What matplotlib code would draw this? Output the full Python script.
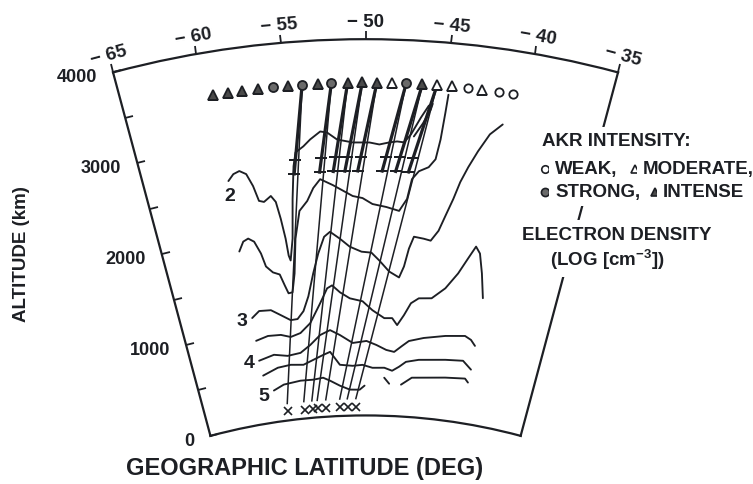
import numpy as np
import matplotlib.pyplot as plt
from matplotlib.lines import Line2D

plt.rcParams['font.family'] = ['Liberation Sans', 'DejaVu Sans']
plt.rcParams['font.weight'] = 'bold'
plt.rcParams['mathtext.fontset'] = 'custom'
plt.rcParams['mathtext.rm'] = 'Liberation Sans:bold'
plt.rcParams['mathtext.bf'] = 'Liberation Sans:bold'

INK = '#1d1f24'
R_E = 6371.0

# AKR observations along the pass (W weak, M moderate, S strong, I intense)
akr_lat = [-59.4, -58.5, -57.6, -56.6, -55.7, -54.8, -53.9, -52.9, -52.1, -51.1, -50.2,
           -49.3, -48.4, -47.5, -46.5, -45.6, -44.7, -43.7, -42.8, -41.8, -40.9]
akr_level = ['I', 'I', 'I', 'I', 'S', 'I', 'S', 'I', 'S', 'I', 'I',
             'I', 'M', 'S', 'I', 'M', 'M', 'W', 'M', 'W', 'W']
akr_alt = 3540

# field lines from the source points down to their footprints (x)
line_top_lat = [-53.9, -52.1, -51.1, -50.2, -49.3, -47.5, -46.5, -45.6]
line_foot_lat = [-57.3, -55.75, -55.0, -54.5, -53.7, -52.4, -51.7, -50.9]
line_top_alt = 3540
line_foot_alt = 180
foot_alt = 95
source_band = [2600, 2750]

# electron density contours, log10 [cm^-3]
c20_lat = [-59.34, -58.94, -58.51, -58.08, -57.73, -57.46, -57.12, -56.60, -56.30, -56.08,
           -55.88, -55.78, -55.67, -55.37, -55.11, -54.85, -54.64, -54.10, -53.62, -52.94,
           -52.50, -51.87, -50.84, -49.74, -49.09, -48.44, -47.93, -47.47, -47.05, -46.47,
           -46.02, -45.78, -45.88, -46.32, -46.85]
c20_alt = [2611, 2675, 2698, 2655, 2519, 2355, 2337, 2391, 2322, 2138,
           1923, 1741, 1687, 1916, 2336, 2682, 2827, 2884, 2953, 3031,
           3017, 2939, 2903, 2902, 2882, 2906, 2919, 2912, 2999, 3184,
           3316, 3340, 3276, 3123, 2980]

c25_lat = [-59.39, -58.99, -58.60, -58.20, -57.82, -57.58, -57.11, -56.61, -56.32, -56.09,
           -55.77, -55.47, -55.16, -54.70, -54.10, -53.62, -53.11, -52.25, -50.90, -50.21,
           -49.51, -48.53, -47.61, -47.09, -46.82, -46.38, -45.74, -45.32, -45.10, -44.94,
           -44.85]
c25_alt = [1853, 1950, 1974, 1932, 1797, 1654, 1582, 1551, 1430, 1342,
           1348, 1545, 1912, 2203, 2302, 2435, 2525, 2455, 2334, 2311,
           2248, 2219, 2182, 2312, 2526, 2614, 2664, 2754, 2968, 3257,
           3449]

c30_lat = [-59.24, -58.60, -57.65, -56.91, -56.15, -55.58, -55.04, -54.55, -54.04, -53.56,
           -53.05, -52.60, -51.89, -51.18, -50.30, -49.56, -48.95, -48.18, -47.40, -47.06,
           -46.76, -46.44, -45.71, -45.19, -44.68, -44.29, -43.86, -43.51, -43.09, -42.58,
           -41.96, -41.24]
c30_alt = [1133, 1195, 1186, 1121, 1056, 1060, 1138, 1291, 1529, 1736,
           1911, 1961, 1883, 1796, 1741, 1731, 1648, 1534, 1475, 1594,
           1786, 1916, 1902, 1887, 1999, 2164, 2351, 2538, 2705, 2885,
           3081, 3205]

c35_lat = [-59.22, -58.18, -57.10, -56.30, -55.45, -54.57, -53.65, -53.03, -52.63, -52.03,
           -51.26, -50.24, -49.44, -48.46, -47.81, -47.38, -46.86, -46.35, -45.75, -44.73,
           -43.73, -42.88, -42.28, -41.81, -41.45, -41.08, -40.70]
c35_alt = [887, 919, 912, 878, 909, 1005, 1208, 1362, 1391, 1314,
           1247, 1214, 1119, 1037, 1040, 968, 1077, 1208, 1266, 1278,
           1398, 1571, 1742, 1879, 1812, 1607, 1348]

c40_lat = [-59.24, -57.90, -56.74, -55.61, -54.71, -53.82, -52.97, -52.16, -51.09, -49.92,
           -49.07, -48.22, -47.53, -46.88, -46.32, -45.09, -43.29, -41.66, -41.12, -40.71]
c40_alt = [673, 712, 682, 699, 774, 871, 917, 860, 772, 792,
           750, 700, 682, 749, 806, 850, 895, 922, 890, 834]

c45_lat = [-59.10, -57.72, -56.57, -55.45, -54.56, -53.67, -53.06, -52.26, -51.13, -50.26,
           -49.39, -48.34, -47.64, -47.04, -46.46, -45.36, -43.05, -41.52, -40.72]
c45_alt = [510, 570, 584, 570, 613, 658, 686, 544, 529, 538,
           507, 510, 481, 527, 583, 614, 643, 658, 578]

c50a_lat = [-58.35, -57.39, -55.85, -54.70, -53.81, -53.20, -52.33, -51.44, -50.54, -50.09]
c50a_alt = [336, 384, 405, 403, 416, 380, 322, 277, 274, 317]
c50b_lat = [-48.32, -47.86]
c50b_alt = [404, 342]
c50c_lat = [-46.78, -45.85, -42.87, -41.11, -40.80]
c50c_alt = [338, 419, 455, 474, 437]

contour_labels = ['2', '3', '4', '5']
contour_label_lat = [-59.44, -60.14, -60.10, -59.30]
contour_label_alt = [2454, 1122, 670, 300]

lat_ticks = [-65, -60, -55, -50, -45, -40, -35]
alt_ticks = [0, 500, 1000, 1500, 2000, 2500, 3000, 3500, 4000]


def pol(lat, alt):
    return np.radians(np.asarray(lat, float)), R_E + np.asarray(alt, float)


fig = plt.figure(figsize=(7.53, 4.85), dpi=100)
ax = fig.add_axes([0.1501, -0.0124, 0.6707, 1.0412], projection='polar')
ax.set_theta_direction(-1)
ax.set_theta_offset(np.radians(40))
ax.set_thetalim(np.radians(-65), np.radians(-35))
ax.set_rlim(R_E, R_E + 4000)
ax.set_rorigin(0)
ax.grid(False)

# density contours
for la, al in [(c20_lat, c20_alt), (c25_lat, c25_alt), (c30_lat, c30_alt),
               (c35_lat, c35_alt), (c40_lat, c40_alt), (c45_lat, c45_alt),
               (c50a_lat, c50a_alt), (c50b_lat, c50b_alt), (c50c_lat, c50c_alt)]:
    ax.plot(*pol(la, al), color=INK, lw=1.35, solid_capstyle='round')

for txt, la, al in zip(contour_labels, contour_label_lat, contour_label_alt):
    t, r = pol(la, al)
    ax.text(t, r, txt, ha='center', va='center', fontsize=14, color=INK)

# field lines: thick above the source band, thin down to the footprint
for top, foot in zip(line_top_lat, line_foot_lat):
    ax.plot(*pol([top, foot], [line_top_alt, line_foot_alt]), color=INK, lw=1.1)
    band_lat = np.interp(source_band, [line_foot_alt, line_top_alt], [foot, top])
    ax.plot(*pol([top, band_lat[0]], [line_top_alt, source_band[0]]), color=INK, lw=2.3)
    ax.plot(*pol(band_lat, source_band), ls='none', marker='_', ms=8, mew=1.4, color=INK)
ax.plot(*pol(line_foot_lat, [foot_alt] * len(line_foot_lat)), ls='none', marker='x',
        ms=5.5, mew=1.2, color=INK)

# AKR intensity symbols
styles = {'W': ('o', 'white', 6), 'M': ('^', 'white', 6.5),
          'S': ('o', '#6a6a6a', 6.5), 'I': ('^', '#4a4a4a', 7)}
for la, lev in zip(akr_lat, akr_level):
    m, fc, ms = styles[lev]
    ax.plot(*pol([la], [akr_alt]), ls='none', marker=m, ms=ms, mfc=fc, mec=INK,
            mew=1.3, zorder=5)

# axes frame and ticks (latitude ticks sit on the outer arc only)
for sp in ax.spines.values():
    sp.set_color(INK)
    sp.set_linewidth(1.6)
ax.set_xticks(np.radians(lat_ticks))
ax.set_xticklabels(['\u2212 %d' % abs(v) for v in lat_ticks])
ax.tick_params(axis='x', bottom=False, top=True, direction='out', length=6, width=1.3,
               color=INK, labelsize=13.5, labelcolor=INK, labelrotation='auto', pad=0)
ax.set_yticks(R_E + np.array(alt_ticks, float))
ax.set_yticklabels([str(v) if v % 1000 == 0 else '' for v in alt_ticks])
ax.tick_params(axis='y', left=True, right=False, direction='in', length=6, width=1.3,
               color=INK, labelsize=13, labelcolor=INK, labelrotation=0, pad=12)

fig.text(0.029, 0.476, 'ALTITUDE (km)', rotation=90, ha='center', va='center',
         fontsize=13.5, color=INK)
fig.text(0.405, 0.035, 'GEOGRAPHIC LATITUDE (DEG)', ha='center', va='center',
         fontsize=17, color=INK)

# legend block
box = dict(facecolor='white', edgecolor='none', pad=4)
fs = 13.5
fig.text(0.720, 1 - 142 / 485, 'AKR INTENSITY:', ha='left', va='center', fontsize=fs,
         color=INK, bbox=box)
fig.text(555 / 753, 1 - 170 / 485, 'WEAK,', ha='left', va='center', fontsize=fs, color=INK,
         bbox=box)
fig.text(643 / 753, 1 - 170 / 485, 'MODERATE,', ha='left', va='center', fontsize=fs,
         color=INK, bbox=box)
fig.text(555 / 753, 1 - 193 / 485, 'STRONG,', ha='left', va='center', fontsize=fs,
         color=INK, bbox=box)
fig.text(663 / 753, 1 - 193 / 485, 'INTENSE', ha='left', va='center', fontsize=fs,
         color=INK, bbox=box)
fig.text(522 / 753, 1 - 235 / 485, 'ELECTRON DENSITY', ha='left', va='center', fontsize=fs,
         color=INK, bbox=box)
fig.text(550 / 753, 1 - 260 / 485, '(LOG [cm$^{\\mathbf{-3}}$])', ha='left', va='center',
         fontsize=fs, color=INK, bbox=box)
for px, py, lev in [(545, 170, 'W'), (635, 170, 'M'), (545, 193, 'S'), (655, 193, 'I')]:
    m, fc, ms = styles[lev]
    fig.add_artist(Line2D([px / 753], [1 - py / 485], transform=fig.transFigure,
                          ls='none', marker=m, ms=ms * 0.9, mfc=fc, mec=INK, mew=1.2))

fig.savefig('out.png', dpi=100)
